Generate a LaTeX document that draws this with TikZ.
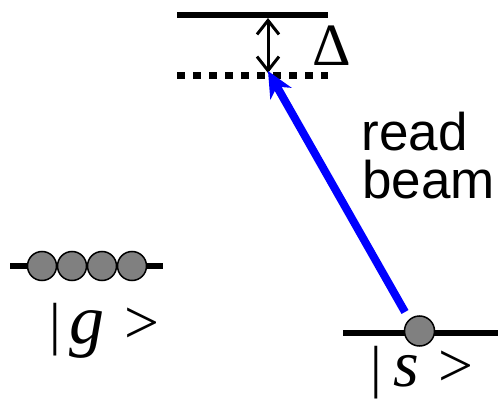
\documentclass[tikz,border=0pt]{standalone}
\usepackage{fontspec}
\setmainfont{Liberation Serif}
\newfontfamily\labsans{Liberation Sans}
\usetikzlibrary{arrows.meta}
\definecolor{atomgray}{RGB}{128,128,128}
\definecolor{beamblue}{RGB}{0,0,255}
\newcommand{\szbar}{\fontsize{58}{58}\selectfont}
\newcommand{\szrel}{\fontsize{62}{62}\selectfont}
\tikzset{
  level/.style={line width=6pt},
  atom/.style={circle, fill=atomgray, draw=black, line width=1.5pt, minimum size=29pt, inner sep=0pt},
  lab/.style={inner sep=0pt, anchor=base west},
  barb/.tip={Straight Barb[length=14pt,width=22pt]},
}
\begin{document}
\begin{tikzpicture}[x=1pt,y=-1pt]
\useasboundingbox (0,0) rectangle (498,401);
% excited levels
\coordinate (t1) at (177,15);
\coordinate (t2) at (328,15);
\draw[level] (t1) -- (t2);
\coordinate (d1) at (177,75.5);
\coordinate (d2) at (328,75.5);
\draw[line width=7pt, dash pattern=on 7.5pt off 8.5pt] (d1) -- (d2);
\coordinate (da) at (268,18);
\coordinate (db) at (268,73);
\draw[line width=3pt, barb-barb] (da) -- (db);
\node[lab, font=\fontsize{60}{60}\selectfont] (delta) at (312,66) {Δ};
% ground level g
\coordinate (g1) at (10,266);
\coordinate (g2) at (163,266);
\draw[level] (g1) -- (g2);
\foreach \i/\x in {1/42,2/72,3/102,4/132}
  \node[atom] (ga\i) at (\x,266) {};
\node[lab] (glab) at (49,343) {\szbar|\hspace{8.5pt}{\fontsize{70}{70}\selectfont\textit{g}}\hspace{20pt}\szrel>};
% level s
\coordinate (s1) at (343,333);
\coordinate (s2) at (498,333);
\draw[level] (s1) -- (s2);
\node[atom, minimum size=30pt] (sa) at (419.5,331) {};
\node[lab] (slab) at (370,386) {\szbar|\hspace{11.5pt}{\fontsize{66}{66}\selectfont\textit{s}}\hspace{19pt}\szrel>};
% read beam
\coordinate (bt) at (405,312);
\coordinate (bh) at (268,71);
\draw[beamblue, line width=8pt, -{Stealth[length=26pt,width=24pt,inset=8pt]}] (bt) -- (bh);
\node[lab, font=\labsans\fontsize{53}{53}\selectfont] (read) at (361.5,150) {read};
\node[lab, font=\labsans\fontsize{53}{53}\selectfont] (beam) at (362,198) {beam};
\end{tikzpicture}
\end{document}
